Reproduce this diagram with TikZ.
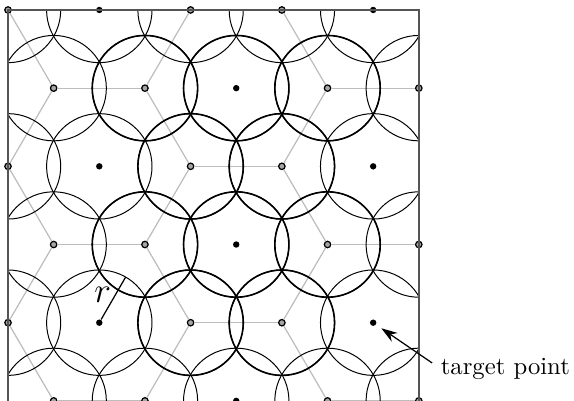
\documentclass[tikz,border=0pt]{standalone}
\usepackage{tikz}
\usetikzlibrary{arrows.meta,calc}
\definecolor{hexline}{HTML}{BDBDBD}
\definecolor{frameline}{HTML}{555555}
\tikzset{
  ctr/.style={circle, fill=black, inner sep=0pt, minimum size=2.6pt},
  vtx/.style={circle, draw=black, fill=black!35, line width=0.5pt, inner sep=0pt, minimum size=2.6pt},
  hexe/.style={draw=hexline, line width=0.5pt},
  disk/.style={draw=black, line width=0.4pt},
  diskb/.style={draw=black, line width=0.65pt},
  frame/.style={draw=frameline, line width=0.6pt},
  ptr/.style={-{Stealth[length=2.3mm,width=1.5mm]}, draw=black, line width=0.5pt, shorten >=2.5pt}
}
\newcommand{\hstep}{0.65}   % half lattice step (cm)
\newcommand{\vstep}{1.1133} % row step (cm)
\newcommand{\rcov}{0.7506}  % sensing radius

\begin{document}
\begin{tikzpicture}
  \useasboundingbox (-0.114,0.142) rectangle (8.06,-5.56);

  % lattice: hexagon centres (filled) and vertices (open)
  \foreach \j in {0,2,4} {
    \foreach \X in {0,4,6} \node[vtx] (n\X-\j) at (\X*\hstep,-\j*\vstep) {};
    \foreach \X in {2,8}   \node[ctr] (n\X-\j) at (\X*\hstep,-\j*\vstep) {};
  }
  \foreach \j in {1,3,5} {
    \foreach \X in {1,3,7,9} \node[vtx] (n\X-\j) at (\X*\hstep,-\j*\vstep) {};
    \node[ctr] (n5-\j) at (5*\hstep,-\j*\vstep) {};
  }

  % honeycomb edges
  \foreach \j/\k in {0/1,2/3,4/5} {
    \foreach \a/\b in {0/1,4/3,6/7} \draw[hexe] (n\a-\j) -- (n\b-\k);
    \draw[hexe] (n4-\j) -- (n6-\j);
  }
  \foreach \j/\k in {1/2,3/4}
    \foreach \a/\b in {1/0,3/4,7/6} \draw[hexe] (n\a-\j) -- (n\b-\k);
  \foreach \j in {1,3,5}
    \foreach \a/\b in {1/3,7/9} \draw[hexe] (n\a-\j) -- (n\b-\j);

  % sensing disks, clipped to the field
  \begin{scope}
    \clip (0,0) rectangle (9*\hstep,-5.85);
    \foreach \j in {0,2,4} \foreach \X in {0,2,4,6,8} \draw[disk] (n\X-\j) circle (\rcov);
    \foreach \j in {1,3,5} \foreach \X in {1,3,5,7,9} \draw[disk] (n\X-\j) circle (\rcov);
    \foreach \X/\j in {3/1,5/1,7/1,4/2,6/2,3/3,5/3,7/3,4/4,6/4}
      \draw[diskb] (n\X-\j) circle (\rcov);
  \end{scope}

  \draw[frame] (0,0) rectangle (9*\hstep,-5.85);

  % radius
  \coordinate (rtip) at ($(n2-4)+(60:\rcov)$);
  \draw[line width=0.5pt] (n2-4) -- node[left,pos=0.58,inner sep=1.5pt,font=\Large]{$r$} (rtip);

  % target
  \node[anchor=west] (tgt) at (6.04,-5.118) {target point};
  \draw[ptr] (tgt.175) -- (n8-4);
\end{tikzpicture}
\end{document}
